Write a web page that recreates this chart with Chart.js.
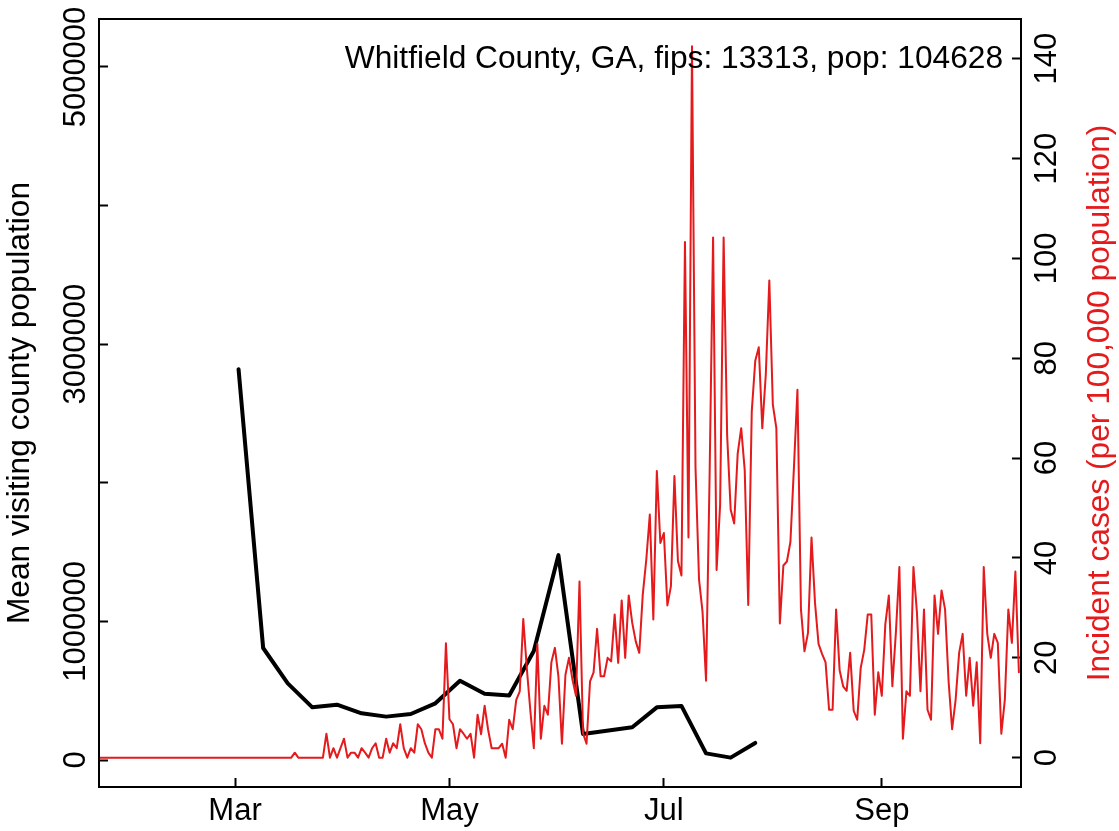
<!DOCTYPE html>
<html>
<head>
<meta charset="utf-8">
<title>Whitfield County, GA</title>
<script src="https://cdn.jsdelivr.net/npm/chart.js@4.4.1/dist/chart.umd.min.js"></script>
<style>
  html, body { margin: 0; padding: 0; background: #fff; }
  #wrap { width: 1119px; height: 831px; }
</style>
</head>
<body>
<div id="wrap"><canvas id="myChart" width="1119" height="831"></canvas></div>
<script>
// weekly mean visiting population (left axis)
var visitDates = ["2020-03-02", "2020-03-09", "2020-03-16", "2020-03-23", "2020-03-30", "2020-04-06", "2020-04-13",
    "2020-04-20", "2020-04-27", "2020-05-04", "2020-05-11", "2020-05-18", "2020-05-25", "2020-06-01", "2020-06-08",
    "2020-06-22", "2020-06-29", "2020-07-06", "2020-07-13", "2020-07-20", "2020-07-27"];
var visitors = [2820000, 808000, 553000, 380000, 399000, 337000, 313000,
    332000, 409000, 572000, 478000, 466000, 787000, 1478000, 188000,
    236000, 380000, 390000, 48000, 17000, 123000];

// daily incident cases per 100,000 (right axis), starting 2020-01-22
var casesStart = "2020-01-22";
var casesJanFeb = [0, 0, 0, 0, 0, 0, 0, 0, 0, 0,
    0, 0, 0, 0, 0, 0, 0, 0, 0, 0, 0, 0, 0, 0, 0, 0, 0, 0, 0, 0, 0, 0, 0, 0, 0, 0, 0, 0, 0];
var casesMar = [0, 0, 0, 0, 0, 0, 0, 0, 0, 0, 0, 0, 0, 0, 0, 0, 0, 1.0, 0, 0, 0, 0, 0, 0, 0, 0, 4.8, 0, 1.9, 0, 1.9];
var casesApr = [3.8, 0, 1.0, 1.0, 0, 1.9, 1.0, 0, 1.9, 2.9, 0, 0, 3.8, 1.0, 2.9, 1.9, 6.7, 1.9, 0, 1.9,
    1.0, 6.7, 5.7, 2.9, 1.0, 0, 5.7, 5.7, 3.8, 22.9];
var casesMay = [7.7, 6.7, 1.9, 5.7, 4.8, 3.8, 4.8, 0, 8.6, 4.7, 10.4, 5.6, 1.9, 1.9, 1.9, 2.8, 0, 7.6, 5.7, 11.6,
    13.3, 27.8, 18.0, 9.5, 1.9, 22.8, 3.8, 10.4, 8.6, 19.1, 22.0];
var casesJun = [16.3, 2.8, 16.6, 20.0, 15.6, 12.4, 35.3, 4.9, 2.8, 15.3, 17.1, 25.8, 16.3, 16.3, 20.0, 19.3, 28.7,
    19.0, 31.5, 20.0, 32.5, 27.0, 23.3, 21.0, 32.7, 39.7, 48.7, 27.7, 57.4, 43.0];
var casesJul = [45.0, 30.5, 34.3, 56.4, 39.4, 36.5, 103.3, 44.1, 142.5, 58.1, 35.7, 29.2, 15.4, 56.0, 104.2, 37.6,
    50.6, 104.2, 64.6, 49.7, 46.9, 60.9, 66.0, 57.6, 30.6, 69.3, 79.5, 82.2, 66.0, 76.8, 95.6];
var casesAug = [70.7, 66.0, 26.9, 38.5, 39.3, 43.2, 58.1, 73.7, 29.7, 21.3, 25.0, 44.1, 31.0, 22.8, 20.8, 19.1,
    9.6, 9.6, 29.7, 17.5, 14.3, 13.4, 21.0, 9.4, 7.6, 18.0, 21.6, 28.7, 28.7, 8.6, 17.1];
var casesSep = [12.4, 26.7, 32.5, 14.3, 25.0, 38.2, 3.8, 13.3, 12.4, 38.2, 29.0, 13.3, 29.7, 9.6, 7.6, 32.5,
    24.8, 33.5, 29.7, 15.3, 5.7, 11.6, 21.0, 24.8, 12.4, 20.0, 10.4, 19.1, 2.9, 38.2];
var casesOct = [24.8, 20.0, 24.8, 23.0, 4.8, 11.6, 29.7, 23.0, 37.3, 17.1];

// axes
var monthTickDates = ["2020-03-01", "2020-05-01", "2020-07-01", "2020-09-01"];
var monthTickLabels = ["Mar", "May", "Jul", "Sep"];
var visitorTicks = [0, 1000000, 2000000, 3000000, 4000000, 5000000];
var visitorTickLabels = ["0", "1000000", "", "3000000", "", "5000000"];
var caseTicks = [0, 20, 40, 60, 80, 100, 120, 140];
var caseTickLabels = ["0", "20", "40", "60", "80", "100", "120", "140"];

var cornerText = "Whitfield County, GA, fips: 13313, pop: 104628";
var leftTitle = "Mean visiting county population";
var rightTitle = "Incident cases (per 100,000 population)";

var FONT = "'Liberation Sans', Arial, Helvetica, sans-serif";
var RED = "#E41A1C";

// days since 2020-03-01
function dayNum(s) {
    var p = s.split("-");
    return (Date.UTC(+p[0], +p[1] - 1, +p[2]) - Date.UTC(2020, 2, 1)) / 86400000;
}

var cases = [].concat(casesJanFeb, casesMar, casesApr, casesMay, casesJun, casesJul, casesAug, casesSep, casesOct);
var caseStartDay = dayNum(casesStart);
var casePoints = cases.map(function (v, i) { return { x: caseStartDay + i, y: v }; });
var visitPoints = visitDates.map(function (d, i) { return { x: dayNum(d), y: visitors[i] }; });

// ticks pointing into the plot, like base R
var inwardGrid = { display: true, drawOnChartArea: false, drawTicks: true, tickLength: -9, tickWidth: 2, tickColor: "#000" };

// keep label overhang from pushing the plot box around
function noPad(s) {
    s.paddingTop = 0; s.paddingBottom = 0; s.paddingLeft = 0; s.paddingRight = 0;
}

var boxAndText = {
    id: "boxAndText",
    afterDatasetsDraw: function (chart) {
        var ctx = chart.ctx, a = chart.chartArea;
        ctx.save();
        ctx.strokeStyle = "#000";
        ctx.lineWidth = 2;
        ctx.strokeRect(a.left, a.top, a.right - a.left, a.bottom - a.top);

        ctx.fillStyle = "#000";
        ctx.font = "31.7px " + FONT;
        ctx.textAlign = "right";
        ctx.textBaseline = "alphabetic";
        ctx.fillText(cornerText, a.right - 18, a.top + 49);

        ctx.translate(a.right + 79, (a.top + a.bottom) / 2);
        ctx.rotate(-Math.PI / 2);
        ctx.fillStyle = RED;
        ctx.textAlign = "center";
        ctx.textBaseline = "middle";
        ctx.fillText(rightTitle, 0, 0);
        ctx.restore();
    }
};

var ctx = document.getElementById("myChart");
var chart = new Chart(ctx, {
    type: "line",
    data: {
        datasets: [{
            label: "Incident cases",
            data: casePoints,
            yAxisID: "y2",
            borderColor: RED,
            borderWidth: 2,
            pointRadius: 0,
            tension: 0,
            borderJoinStyle: "round",
            borderCapStyle: "round",
            clip: 0,
            order: 0
        }, {
            label: "Mean visiting county population",
            data: visitPoints,
            yAxisID: "y",
            borderColor: "#000",
            borderWidth: 4,
            pointRadius: 0,
            tension: 0,
            borderJoinStyle: "round",
            borderCapStyle: "round",
            clip: 0,
            order: 1
        }]
    },
    options: {
        responsive: false,
        devicePixelRatio: 1,
        animation: false,
        layout: { padding: { top: 19, left: 0, right: 0, bottom: 0 }, autoPadding: false },
        plugins: { legend: { display: false }, tooltip: { enabled: false } },
        scales: {
            x: {
                type: "linear",
                position: "bottom",
                min: dayNum("2020-01-22") + 0.3,
                max: dayNum("2020-10-10") + 0.6,
                bounds: "data",
                afterBuildTicks: function (s) {
                    s.ticks = monthTickDates.map(function (d) { return { value: dayNum(d) }; });
                },
                ticks: {
                    autoSkip: false, minRotation: 0, maxRotation: 0, padding: 14.4, color: "#000",
                    font: { family: FONT, size: 31 },
                    callback: function (v, i) { return monthTickLabels[i]; }
                },
                grid: inwardGrid,
                border: { display: false },
                afterFit: function (s) { s.height = 44; noPad(s); }
            },
            y: {
                type: "linear",
                position: "left",
                min: -194800,
                max: 5346300,
                bounds: "data",
                afterBuildTicks: function (s) {
                    s.ticks = visitorTicks.map(function (v) { return { value: v }; });
                },
                ticks: {
                    autoSkip: false, minRotation: 90, maxRotation: 90, crossAlign: "center", padding: -28.3,
                    color: "#000", font: { family: FONT, size: 31 },
                    callback: function (v, i) { return visitorTickLabels[i]; }
                },
                grid: inwardGrid,
                border: { display: false },
                title: {
                    display: true, text: leftTitle, color: "#000",
                    font: { family: FONT, size: 31.7 }, padding: { top: 1, bottom: 0 }
                },
                afterFit: function (s) { s.width = 99; noPad(s); }
            },
            y2: {
                type: "linear",
                position: "right",
                min: -5.87,
                max: 147.95,
                bounds: "data",
                afterBuildTicks: function (s) {
                    s.ticks = caseTicks.map(function (v) { return { value: v }; });
                },
                ticks: {
                    autoSkip: false, minRotation: 90, maxRotation: 90, crossAlign: "center", padding: 9.1,
                    color: "#000", font: { family: FONT, size: 31 },
                    callback: function (v, i) { return caseTickLabels[i]; }
                },
                grid: inwardGrid,
                border: { display: false },
                afterFit: function (s) { s.width = 98; noPad(s); }
            }
        }
    },
    plugins: [boxAndText]
});
</script>
</body>
</html>
